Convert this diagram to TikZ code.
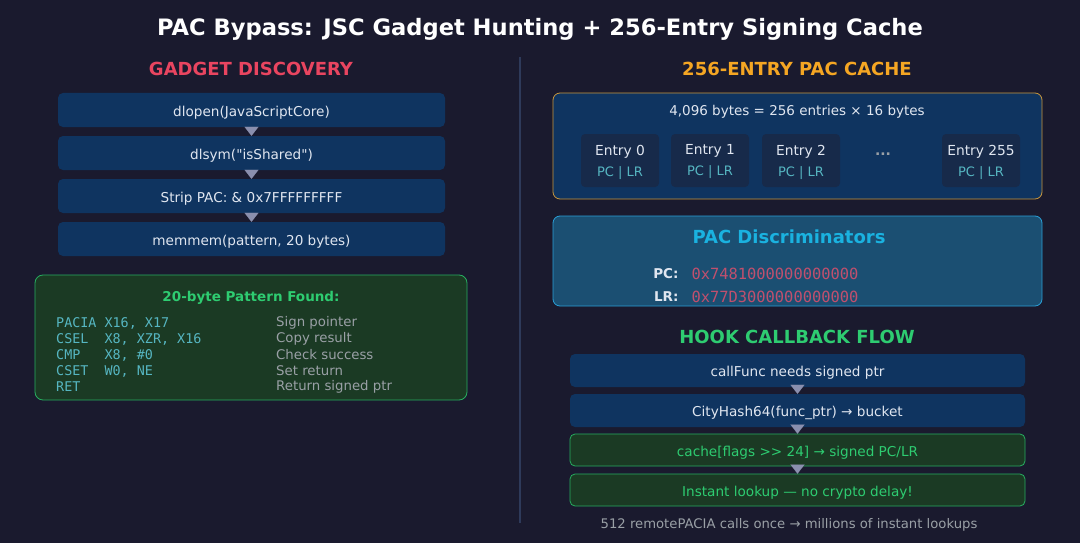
\documentclass[tikz,border=0pt]{standalone}
\usepackage{fontspec}
\setmainfont{DejaVu Sans}[Ligatures=TeXOff]
\setmonofont{DejaVu Sans Mono}
\usetikzlibrary{arrows.meta}
\definecolor{bg}{HTML}{1A1A2E}
\definecolor{boxblue}{HTML}{0F3460}
\definecolor{entryfill}{HTML}{172A4A}
\definecolor{cacheorange}{HTML}{C8963C}
\definecolor{headorange}{HTML}{F5A623}
\definecolor{headred}{HTML}{E94560}
\definecolor{headgreen}{HTML}{2ECC71}
\definecolor{greenfill}{HTML}{1B3A24}
\definecolor{greenline}{HTML}{27AE60}
\definecolor{codecyan}{HTML}{56B6C2}
\definecolor{commentgray}{HTML}{9AA0A6}
\definecolor{discfill}{HTML}{1B4F72}
\definecolor{discline}{HTML}{2A9FD6}
\definecolor{disctitle}{HTML}{1AB2E0}
\definecolor{hexpink}{HTML}{C0506E}
\definecolor{boxtext}{HTML}{E0E6F0}
\definecolor{arrowgray}{HTML}{8A8FAE}
\definecolor{divider}{HTML}{2E3A5A}
\begin{document}
\begin{tikzpicture}[x=1pt,y=-1pt,
    heading/.style={font=\fontsize{18}{21}\selectfont\bfseries},
    stepbox/.style={fill=boxblue,rounded corners=5pt,minimum height=34pt,
      inner sep=0pt,text height=12.5pt,text depth=0pt,text=boxtext,
      font=\fontsize{13.6}{16}\selectfont},
    greenstep/.style={stepbox,fill=greenfill,draw=greenline,line width=0.8pt,text=headgreen},
    entrybox/.style={fill=entryfill,rounded corners=4pt,minimum width=78pt,
      minimum height=53pt,inner sep=0pt},
    entrytext/.style={align=center,text=boxtext,font=\fontsize{13.8}{21}\selectfont},
    codeline/.style={anchor=west,inner sep=0pt,text=codecyan,font=\ttfamily\fontsize{13.4}{15}\selectfont},
    comment/.style={anchor=west,inner sep=0pt,text=commentgray,font=\fontsize{13.3}{15}\selectfont},
    flow/.style={-{Triangle[length=9pt,width=14pt]},line width=0.1pt,draw=arrowgray,fill=arrowgray}]
  \fill[bg] (0,0) rectangle (1080,543);
  \node[text=white,font=\fontsize{22.6}{26}\selectfont\bfseries] (title) at (540,29)
    {PAC Bypass: JSC Gadget Hunting + 256-Entry Signing Cache};
  \coordinate (divtop) at (520,57);
  \coordinate (divbot) at (520,523);
  \draw[divider,line width=1.5pt] (divtop) -- (divbot);

  % left column
  \node[heading,text=headred] (gadget) at (251,69) {GADGET DISCOVERY};
  \node[stepbox,minimum width=387pt] (dlopen) at (251.5,110) {dlopen(JavaScriptCore)};
  \node[stepbox,minimum width=387pt] (dlsym) at (251.5,153) {dlsym("isShared")};
  \node[stepbox,minimum width=387pt] (strip) at (251.5,196) {Strip PAC: \& 0x7FFFFFFFFF};
  \node[stepbox,minimum width=387pt] (memmem) at (251.5,239) {memmem(pattern, 20 bytes)};
  \draw[flow] (dlopen.south) -- (dlsym.north);
  \draw[flow] (dlsym.south) -- (strip.north);
  \draw[flow] (strip.south) -- (memmem.north);

  \node[fill=greenfill,draw=greenline,line width=0.8pt,rounded corners=8pt,
    minimum width=432pt,minimum height=125pt] (pattern) at (251,337.5) {};
  \node[text=headgreen,font=\fontsize{13.5}{16}\selectfont\bfseries] (found) at (251,298)
    {20-byte Pattern Found:};
  \node[codeline] (c1) at (56,323) {PACIA X16, X17};
  \node[codeline] (c2) at (56,339) {CSEL\ \ X8, XZR, X16};
  \node[codeline] (c3) at (56,355) {CMP\ \ \ X8, \#0};
  \node[codeline] (c4) at (56,371) {CSET\ \ W0, NE};
  \node[codeline] (c5) at (56,387) {RET};
  \node[comment] (m1) at (276,323) {Sign pointer};
  \node[comment] (m2) at (276,339) {Copy result};
  \node[comment] (m3) at (276,355) {Check success};
  \node[comment] (m4) at (276,371) {Set return};
  \node[comment] (m5) at (276,387) {Return signed ptr};

  % right column
  \node[heading,text=headorange] (cachehead) at (797,69) {256-ENTRY PAC CACHE};
  \node[fill=boxblue,draw=cacheorange,line width=0.8pt,rounded corners=7pt,
    minimum width=489pt,minimum height=106pt] (cache) at (797.5,146) {};
  \node[text=boxtext,font=\fontsize{13.5}{16}\selectfont] (size) at (797,112)
    {4,096 bytes = 256 entries × 16 bytes};
  \foreach \n/\x in {0/620,1/710,2/801,255/981}{
    \node[entrybox] (e\n) at (\x,160.5) {};
    \node[entrytext] (e\n txt) at (\x,162) {Entry \n\\{\color{codecyan}\fontsize{13}{14}\selectfont PC | LR}};
  }
  \node[text=commentgray,font=\fontsize{14}{16}\selectfont\bfseries] (dots) at (883,154) {...};

  \node[fill=discfill,draw=discline,line width=0.8pt,rounded corners=7pt,
    minimum width=489pt,minimum height=90pt] (disc) at (797.5,261) {};
  \node[heading,text=disctitle] (disctitle) at (789,237) {PAC Discriminators};
  \node[anchor=east,text=boxtext,font=\fontsize{13.5}{16}\selectfont\bfseries] (pclab) at (682,274) {PC:};
  \node[anchor=east,text=boxtext,font=\fontsize{13.5}{16}\selectfont\bfseries] (lrlab) at (682,297) {LR:};
  \node[anchor=west,text=hexpink,font=\ttfamily\fontsize{15.4}{18}\selectfont] (pcval) at (688,274) {0x7481000000000000};
  \node[anchor=west,text=hexpink,font=\ttfamily\fontsize{15.4}{18}\selectfont] (lrval) at (688,297) {0x77D3000000000000};

  \node[heading,text=headgreen] (hookhead) at (797,337) {HOOK CALLBACK FLOW};
  \node[stepbox,minimum width=455pt,minimum height=33pt] (callfunc) at (797.5,370.5) {callFunc needs signed ptr};
  \node[stepbox,minimum width=455pt,minimum height=33pt] (cityhash) at (797.5,410.5) {CityHash64(func\_ptr) → bucket};
  \node[greenstep,minimum width=455pt,minimum height=32pt] (lookup) at (797.5,450) {cache[flags >{}> 24] → signed PC/LR};
  \node[greenstep,minimum width=455pt,minimum height=32pt] (instant) at (797.5,490) {Instant lookup — no crypto delay!};
  \draw[flow] (callfunc.south) -- (cityhash.north);
  \draw[flow] (cityhash.south) -- (lookup.north);
  \draw[flow] (lookup.south) -- (instant.north);
  \node[text=commentgray,font=\fontsize{13.2}{15}\selectfont] (footer) at (789,525)
    {512 remotePACIA calls once → millions of instant lookups};
\end{tikzpicture}
\end{document}
